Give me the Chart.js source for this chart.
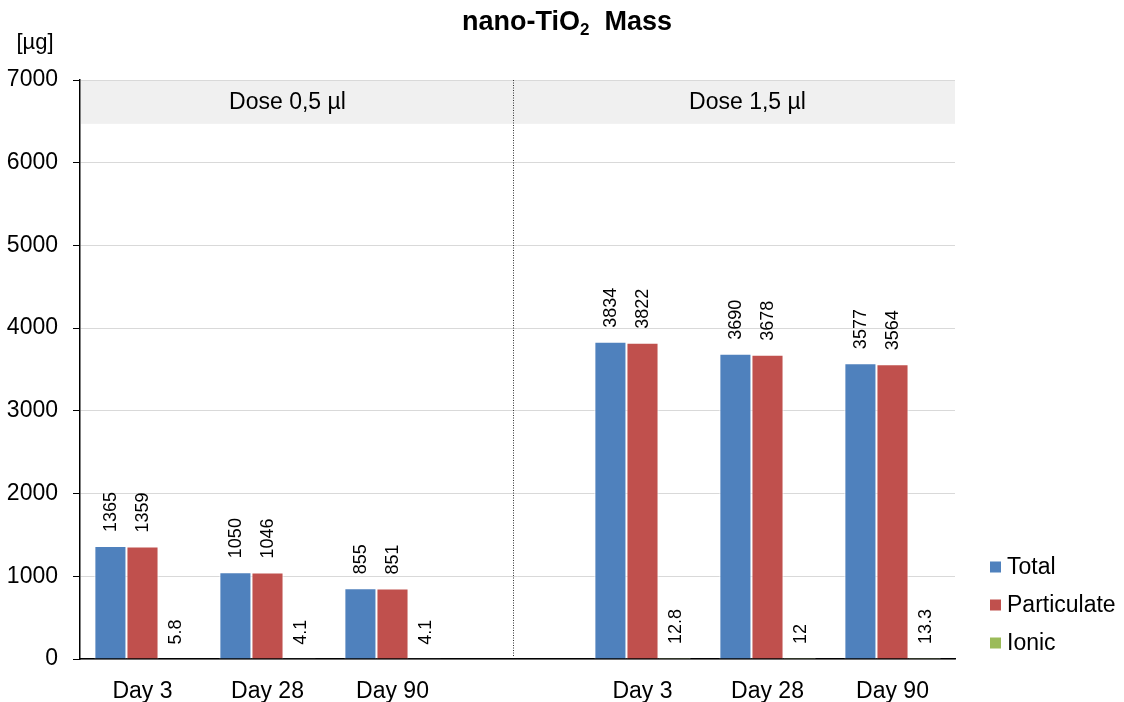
<!DOCTYPE html>
<html>
<head>
<meta charset="utf-8">
<script src="https://cdn.jsdelivr.net/npm/chart.js@4"></script>
<style>
  html, body { margin: 0; padding: 0; background: #fff; }
  #wrap { width: 1124px; height: 702px; position: relative; }
</style>
</head>
<body>
<div id="wrap"><canvas id="c"></canvas></div>
<script>
// Sampling days for the two dose groups; the empty slot separates the panels.
const categories = ['Day 3', 'Day 28', 'Day 90', '', 'Day 3', 'Day 28', 'Day 90'];
const totalMass = [1365, 1050, 855, null, 3834, 3690, 3577];
const particulateMass = [1359, 1046, 851, null, 3822, 3678, 3564];
const ionicMass = [5.8, 4.1, 4.1, null, 12.8, 12, 13.3];
const panelTitles = ['Dose 0,5 µl', 'Dose 1,5 µl'];
const yTicks = [0, 1000, 2000, 3000, 4000, 5000, 6000, 7000];

const FONT = '"Liberation Sans", Arial, sans-serif';

// Header band, panel captions and the dotted panel divider
const panelPlugin = {
  id: 'panels',
  beforeDatasetsDraw(chart) {
    const { ctx, chartArea, scales } = chart;
    const x = scales.x, y = scales.y;
    const top = y.getPixelForValue(7000);
    const bot = y.getPixelForValue(6470);
    ctx.save();
    ctx.fillStyle = '#f0f0f0';
    ctx.fillRect(chartArea.left + 1, top + 1, chartArea.right - chartArea.left - 1, bot - top - 1);
    ctx.fillStyle = '#000';
    ctx.font = '23px ' + FONT;
    ctx.textAlign = 'center';
    ctx.textBaseline = 'middle';
    const mid = (top + bot) / 2 + 1;
    ctx.fillText(panelTitles[0], x.getPixelForValue(1.16), mid);
    ctx.fillText(panelTitles[1], x.getPixelForValue(4.84), mid);
    // divider
    const sx = Math.round(x.getPixelForValue(2.965)) + 0.5;
    ctx.strokeStyle = '#333';
    ctx.lineWidth = 1;
    ctx.setLineDash([1, 1.5]);
    ctx.beginPath();
    ctx.moveTo(sx, top);
    ctx.lineTo(sx, y.getPixelForValue(0) - 3);
    ctx.stroke();
    ctx.restore();
  }
};

// Rotated value labels above every bar, plus title, unit and legend
const labelPlugin = {
  id: 'valueLabels',
  afterDatasetsDraw(chart) {
    const { ctx } = chart;
    ctx.save();
    ctx.fillStyle = '#000';
    ctx.font = '18px ' + FONT;
    ctx.textAlign = 'left';
    ctx.textBaseline = 'middle';
    chart.data.datasets.forEach((ds, di) => {
      const meta = chart.getDatasetMeta(di);
      meta.data.forEach((bar, i) => {
        const v = ds.data[i];
        if (v === null || v === undefined) return;
        ctx.save();
        ctx.translate(bar.x + 1, bar.y - 14);
        ctx.rotate(-Math.PI / 2);
        ctx.fillText(String(v), 0, 0);
        ctx.restore();
      });
    });
    ctx.restore();
  },
  afterDraw(chart) {
    const { ctx } = chart;
    ctx.save();
    // title with subscript
    ctx.fillStyle = '#000';
    ctx.textBaseline = 'alphabetic';
    ctx.textAlign = 'left';
    const big = 'bold 27px ' + FONT;
    const small = 'bold 17px ' + FONT;
    const p1 = 'nano-TiO', p2 = '2', p3 = '  Mass';
    ctx.font = big; const w1 = ctx.measureText(p1).width, w3 = ctx.measureText(p3).width;
    ctx.font = small; const w2 = ctx.measureText(p2).width;
    let tx = 567 - (w1 + w2 + w3) / 2;
    const ty = 30;
    ctx.font = big; ctx.fillText(p1, tx, ty); tx += w1;
    ctx.font = small; ctx.fillText(p2, tx, ty + 5); tx += w2;
    ctx.font = big; ctx.fillText(p3, tx, ty);
    // unit
    ctx.font = '22px ' + FONT;
    ctx.textAlign = 'center';
    ctx.textBaseline = 'middle';
    ctx.fillText('[µg]', 35, 43);
    // legend
    ctx.textAlign = 'left';
    ctx.font = '23px ' + FONT;
    const ly = [567, 605, 643];
    chart.data.datasets.forEach((ds, i) => {
      ctx.fillStyle = ds.backgroundColor;
      ctx.fillRect(990, ly[i] - 5.5, 11, 11);
      ctx.fillStyle = '#000';
      ctx.fillText(ds.label, 1007, ly[i] + 1);
    });
    ctx.restore();
  }
};

new Chart(document.getElementById('c'), {
  type: 'bar',
  data: {
    labels: categories,
    datasets: [
      { label: 'Total', data: totalMass, backgroundColor: '#4F81BD' },
      { label: 'Particulate', data: particulateMass, backgroundColor: '#C0504D' },
      { label: 'Ionic', data: ionicMass, backgroundColor: '#9BBB59' }
    ]
  },
  options: {
    responsive: true,
    maintainAspectRatio: false,
    animation: false,
    devicePixelRatio: 1,
    layout: { padding: { left: 0, right: 169, top: 80, bottom: 0 } },
    datasets: {
      bar: {
        categoryPercentage: 0.77,
        barPercentage: 1.0,
        borderWidth: 1,
        borderColor: '#ffffff',
        borderSkipped: 'bottom'
      }
    },
    plugins: {
      legend: { display: false },
      title: { display: false },
      tooltip: { enabled: false }
    },
    scales: {
      x: {
        grid: { display: false },
        border: { display: true, color: '#000', width: 1.5 },
        ticks: { color: '#000', font: { family: FONT, size: 23 }, padding: 11, maxRotation: 0, autoSkip: false },
        afterFit(scale) { scale.height = 43; }
      },
      y: {
        min: 0,
        max: 7000,
        afterBuildTicks(scale) { scale.ticks = yTicks.map(v => ({ value: v })); },
        grid: { color: '#d9d9d9', lineWidth: 1, tickColor: '#000', tickLength: 7 },
        border: { display: true, color: '#000', width: 1.5 },
        ticks: { color: '#000', font: { family: FONT, size: 23 }, padding: 15, callback: v => String(v) },
        afterFit(scale) { scale.width = 80; }
      }
    }
  },
  plugins: [panelPlugin, labelPlugin]
});
</script>
</body>
</html>
